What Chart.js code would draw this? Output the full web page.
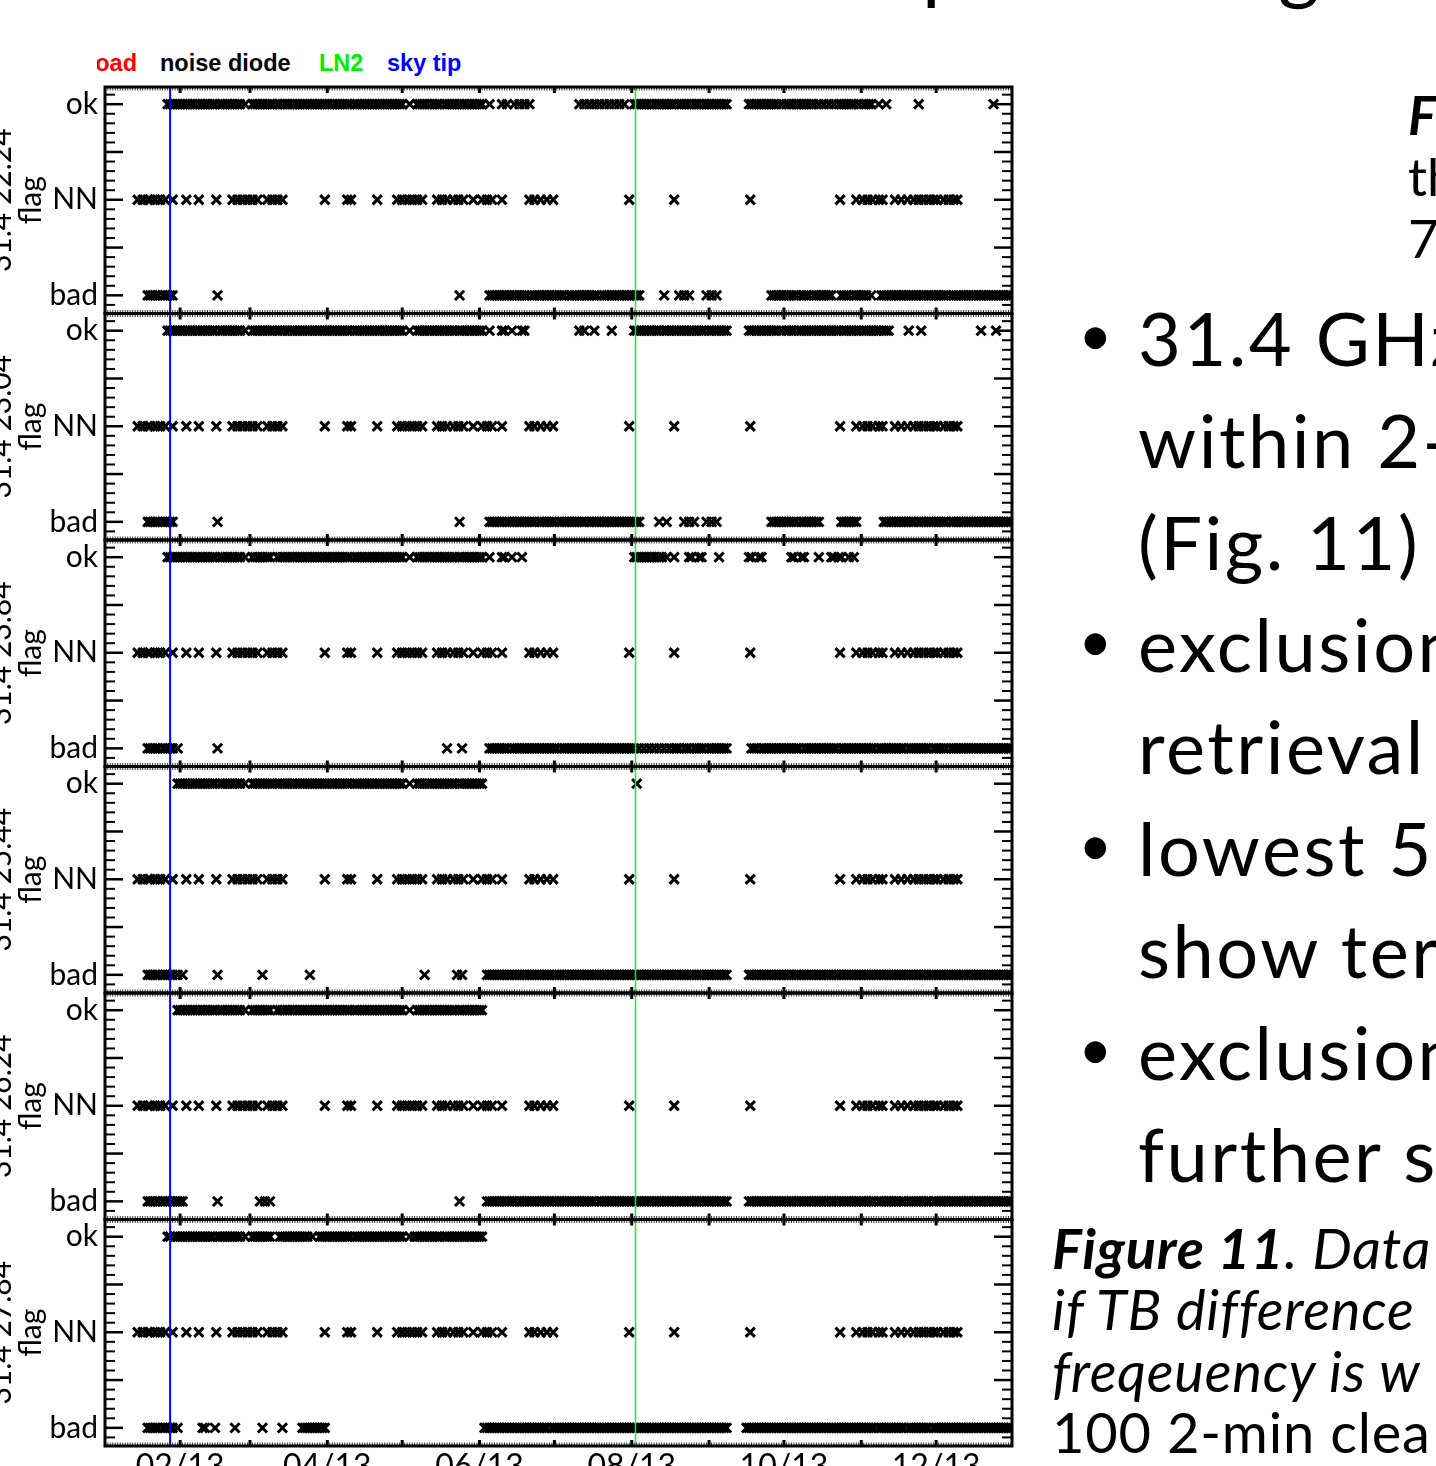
<!DOCTYPE html>
<html><head><meta charset="utf-8">
<script src="https://cdn.jsdelivr.net/npm/chart.js@4.4.1/dist/chart.umd.min.js"></script>
<style>
html,body{margin:0;padding:0;width:1436px;height:1466px;overflow:hidden;background:#fff;position:relative;}
.t{position:absolute;white-space:nowrap;font-family:Lato,sans-serif;color:#000;}
.lg{position:absolute;white-space:nowrap;font-family:"Liberation Sans",Arial,sans-serif;font-weight:bold;font-size:23.5px;line-height:27px;top:50px;}
.bl{position:absolute;font-family:Lato,sans-serif;font-size:58px;line-height:101.9px;left:1078.5px;}
</style></head><body>
<!-- legend -->
<div style="position:absolute;left:97px;top:50px;width:60px;height:30px;overflow:hidden"><span class="lg" style="left:-8.3px;top:0;color:#ff0000">load</span></div>
<div class="lg" style="left:160px;color:#000">noise diode</div>
<div class="lg" style="left:319px;color:#00ee00">LN2</div>
<div class="lg" style="left:387px;color:#0000ff">sky tip</div>
<!-- slide text -->
<div class="t" style="left:922px;top:-85px;font-size:80px;line-height:96px">p</div>
<div class="t" style="left:1278px;top:-85px;font-size:80px;line-height:96px">g</div>
<div class="t" style="left:1408px;top:83.7px;font-size:53px;line-height:61.5px"><b><i>Figure 10</i></b><br>th<br>7</div>
<div class="bl" style="top:283.4px">•</div>
<div class="bl" style="top:589.1px">•</div>
<div class="bl" style="top:792.9px">•</div>
<div class="bl" style="top:996.7px">•</div>
<div class="t" style="left:1138px;top:287.4px;font-size:74px;line-height:101.9px;letter-spacing:2.5px">31.4 GHz<br>within 2-<br>(Fig. 11)<br>exclusion<br>retrieval<br>lowest 5<br>show ter<br>exclusion<br>further s</div>
<div class="t" style="left:1052px;top:1216.7px;font-size:56px;line-height:61.5px;font-style:italic;letter-spacing:0.8px"><b>Figure 11</b>. Data<br>if TB difference<br>freqeuency is w<br><span style="font-style:normal">100 2-min clea</span></div>
<script>
// ---------- data (day of 2013, Jan 1 = 0) ----------
const xTickDays = [31, 90, 151, 212, 273, 334];
const xTickLabels = ['02/13', '04/13', '06/13', '08/13', '10/13', '12/13'];
const monthTickDays = [31, 59, 90, 120, 151, 181, 212, 243, 273, 304, 334];
const yTickValues = [0, 1, 2];
const yTickLabels = ['bad', 'NN', 'ok'];
const yMajorTicks = [0, 0.5, 1, 1.5, 2];
const yMinorTicks = [-0.1, 0.1, 0.2, 0.3, 0.4, 0.6, 0.7, 0.8, 0.9, 1.1, 1.2, 1.3, 1.4, 1.6, 1.7, 1.8, 1.9, 2.1];
const skyTipDays = [27];
const ln2Days = [213.5];
const panelTitles = [['31.4 22.24', 'flag'], ['31.4 23.04', 'flag'], ['31.4 23.84', 'flag'], ['31.4 25.44', 'flag'], ['31.4 26.24', 'flag'], ['31.4 27.84', 'flag']];

const nnDays = [14,16,18,19,21,23,25,28,33.5,38.5,45.5,52,54,56,58,60,62,66,68,70,72,89,98,99.5,110,118,120,122,124,126,128,134,136,138,140.5,142.5,144.5,148.5,152,154,156,160,171,173,175.5,178,180.5,211,229,259.5,295.5,302,304.5,306.5,308.5,311,312.5,317.5,320,322.5,325,327,329,331,333,334.5,337,339,341,342.5];

const p1Ok = [26,27,28,29,30,31,32,33,34,35,36,37,38,39,40,41,42,43,44,45,47,48,49,50,51,52,53,54,55,57,60,61,62,63,64,65,66,67,68,70,71,72,73,74,75,76,77,78,79,80,81,82,83,84,85,86,87,88,89,90,91,92,93,94,95,96,97,98,99,101,102,103,104,105,106,107,108,109,110,111,112,113,114,115,116,117,118,119,120,123,126,127,128,129,130,131,132,133,134,135,137,138,139,140,141,142,143,144,145,146,147,148,149,150,151,152,155,160,162,165,167,169,171,191,193,195,197,199,201,203,205,207,209,213,214,215,216,217,218,219,220,221,222,223,224,225,226,227,228,229,231,232,233,234,235,236,237,238,239,240,241,242,243,244,245,246,247,248,249,250,259,260,261,262,263,264,265,266,267,268,269,270,272,274,275,276,277,278,279,280,281,282,283,284,285,287,289,291,293,295,296,297,298,299,300,301,303,305,306,307,308,311,314,327,357];
const p1Bad = [18,19,20,21,22,24,25,26,27,28,46,143,155,156,157,158,159,160,161,162,163,164,165,166,167,168,169,170,172,173,174,175,176,177,178,179,180,181,182,183,184,185,187,188,189,190,191,192,193,194,195,196,197,198,200,201,202,203,204,205,206,207,208,209,210,211,212,213,214,215,225,231,233,235,242,244,246,268,269,270,271,272,273,274,275,276,277,278,280,281,282,283,285,286,287,288,289,290,291,292,296,297,298,299,301,302,303,304,305,306,308,312,313,314,315,316,317,318,319,320,321,322,323,324,325,326,327,328,329,330,331,332,333,334,335,336,337,338,340,341,342,343,344,345,346,347,348,349,350,351,352,353,354,355,356,357,358,359,360,361,362,363,364];

const p2Ok = [26,27,28,29,30,31,32,33,34,35,36,37,38,39,40,41,42,43,44,45,47,48,49,50,51,52,53,54,55,57,60,61,62,63,64,65,66,67,68,70,71,72,73,74,75,76,77,78,79,80,81,82,83,84,85,86,87,88,89,90,91,92,93,94,95,96,97,98,99,101,102,103,104,105,106,107,108,109,110,111,112,113,114,115,116,117,118,119,120,123,126,127,128,129,130,131,132,133,134,135,136,137,138,139,140,141,143,144,145,146,147,148,149,150,151,152,155,160,161,164,168,169,191,193,197,204,213,214,215,216,217,218,219,220,221,222,223,225,226,227,228,229,230,231,232,233,234,235,236,237,238,239,240,241,243,244,245,246,247,248,249,250,259,260,261,262,263,264,265,266,267,268,269,270,272,274,275,276,277,279,280,281,282,283,284,285,286,287,288,289,290,291,292,293,294,295,297,298,299,300,301,302,303,305,306,307,308,309,310,311,313,314,315,323,328,352,358];
const p2Bad = [18,19,20,21,22,24,25,26,27,28,46,143,155,156,157,158,159,160,162,163,164,165,166,167,168,169,170,171,172,173,175,176,177,178,179,180,181,183,184,185,186,187,188,189,190,191,192,193,195,196,197,198,199,200,201,202,203,204,205,206,207,208,209,210,211,212,213,214,215,223,226,233,235,237,242,244,246,268,269,270,271,272,273,274,275,276,277,278,280,281,282,283,284,285,286,287,296,297,298,299,300,301,302,313,314,315,316,317,318,319,320,321,322,323,324,325,327,328,329,330,331,332,333,334,335,336,337,338,340,341,342,343,344,345,346,347,348,349,350,351,352,353,354,355,356,357,358,359,360,361,362,363,364];

const p3Ok = [26,27,28,29,30,31,32,33,34,35,36,37,38,39,40,41,42,43,44,45,47,48,49,50,51,52,53,54,55,57,60,61,62,63,64,65,66,67,70,71,72,73,74,75,76,77,78,79,80,81,82,83,84,85,86,87,88,89,90,91,92,93,94,95,96,97,98,99,101,102,103,104,105,106,107,108,109,110,111,112,113,114,115,116,117,118,119,120,123,126,127,128,129,130,131,132,133,134,135,136,137,138,139,140,141,143,144,145,146,147,148,149,150,151,152,155,160,161,164,168,213,214,215,216,217,218,219,220,221,222,223,224,226,229,235,236,239,240,247,259,260,263,264,276,277,280,281,287,292,293,295,296,299,301];
const p3Bad = [18,19,20,21,22,24,25,26,27,28,30,46,138,144,155,156,157,158,159,160,161,162,164,165,166,167,168,169,170,171,172,173,174,175,176,177,178,179,180,181,182,184,185,186,187,188,189,190,191,192,193,194,195,196,197,198,199,200,201,202,203,204,205,206,207,208,209,210,211,212,213,215,217,219,221,223,225,227,229,230,231,233,234,235,237,238,239,240,241,243,244,245,246,247,248,249,250,260,261,262,264,265,266,267,268,269,270,271,272,273,274,275,276,277,278,279,281,282,283,284,285,286,287,288,289,290,291,292,293,294,296,297,298,299,300,301,302,303,304,305,306,307,308,309,311,312,313,314,315,316,317,318,319,320,321,323,324,325,326,327,328,329,330,331,333,334,335,336,337,338,340,341,342,343,344,345,346,347,348,349,350,351,352,353,354,355,356,357,358,359,360,361,362,363,364];

const p4Ok = [30,31,32,33,34,35,36,37,38,39,40,41,42,43,44,45,47,48,49,50,51,52,53,54,55,57,60,61,62,63,64,65,66,67,68,70,71,72,73,74,75,76,77,78,79,80,81,82,83,84,85,86,87,88,89,90,91,92,93,94,95,96,97,98,99,101,102,103,104,105,106,107,108,109,110,111,112,113,114,115,116,117,118,119,120,123,126,127,128,129,130,131,132,133,134,135,136,137,138,139,140,141,143,144,145,146,147,148,149,150,151,152,214];
const p4Bad = [18,19,20,21,22,24,25,26,27,28,30,32,46,64,83,129,142,144,154,155,156,157,158,159,160,161,162,163,164,165,166,167,168,169,170,171,172,173,174,175,176,177,178,179,180,181,182,183,184,185,186,187,188,189,190,191,192,193,194,195,196,197,198,199,200,201,202,203,204,205,206,207,208,209,210,211,212,213,214,215,216,217,218,219,220,221,222,223,224,225,226,227,228,229,230,231,232,233,234,235,236,237,238,239,240,241,242,243,244,245,246,247,248,249,250,259,260,261,262,263,264,265,266,267,268,269,270,271,272,273,274,275,276,277,278,279,280,281,282,283,284,285,286,287,288,289,290,291,292,293,294,295,296,297,298,299,300,301,302,303,304,305,306,307,308,309,310,311,312,313,314,315,316,317,318,319,320,321,322,323,324,325,326,327,328,329,330,331,332,333,334,335,336,337,338,339,340,341,342,343,344,345,346,347,348,349,350,351,352,353,354,355,356,357,358,359,360,361,362,363,364];

const p5Ok = [30,31,32,33,34,35,36,37,38,39,40,41,42,43,44,45,47,48,49,50,51,52,53,54,55,57,60,61,62,63,64,65,66,67,70,71,72,73,74,75,76,77,78,79,80,81,82,83,84,85,86,87,88,89,90,91,92,93,94,95,96,97,98,99,101,102,103,104,105,106,107,108,109,110,111,112,113,114,115,116,117,118,119,120,123,126,127,128,129,130,131,132,133,134,135,136,137,138,139,140,141,143,144,145,146,147,148,149,150,151,152];
const p5Bad = [18,19,20,21,22,24,25,26,27,28,29,30,31,32,46,63,65,67,143,154,155,156,157,158,159,160,161,162,163,164,165,166,167,168,169,170,171,172,173,174,175,176,177,178,179,180,181,182,183,184,185,186,187,188,189,190,191,192,193,194,195,196,197,199,200,201,202,203,204,205,206,207,208,209,210,211,212,213,214,215,216,217,218,219,220,221,222,223,224,225,226,227,228,229,230,231,232,233,234,235,236,237,238,239,240,241,242,243,244,245,246,247,248,249,250,259,260,261,262,263,264,265,266,267,268,269,270,271,272,273,274,275,276,277,278,279,280,281,282,283,284,285,286,287,288,289,290,291,292,293,294,295,296,297,298,299,300,301,302,303,304,305,306,307,308,309,311,312,313,314,315,316,317,318,319,320,321,323,324,325,326,327,328,329,330,331,333,334,335,336,337,338,339,340,341,342,343,344,345,346,347,348,349,350,351,352,353,354,355,356,357,358,359,360,361,362,363,364];

const p6Ok = [26,27,29,30,31,32,33,34,35,36,37,38,39,40,41,42,43,44,46,47,48,49,50,51,52,53,54,55,57,60,61,62,63,64,65,66,67,71,72,73,74,75,76,77,78,79,80,81,82,84,87,88,89,90,91,92,93,94,95,96,97,98,99,101,102,103,104,105,106,107,108,109,110,111,112,113,114,115,116,117,118,119,120,123,125,126,127,128,129,130,131,132,133,134,135,137,138,139,140,141,142,143,144,145,146,147,148,149,150,151,152];
const p6Bad = [18,19,20,21,22,24,25,26,27,28,30,40,41,45,53,64,72,80,81,82,83,84,85,86,87,88,89,153,154,155,156,157,158,159,160,161,162,163,164,165,166,167,168,169,170,171,172,173,174,175,176,177,178,180,181,182,183,184,185,186,187,188,189,190,191,192,193,194,195,196,197,198,199,200,201,202,203,204,205,206,207,208,209,210,211,212,213,214,215,216,217,218,219,220,221,222,223,224,225,226,227,228,229,230,231,232,233,234,235,236,237,238,239,240,241,242,243,244,245,246,247,248,249,250,258,259,260,261,262,263,264,265,266,267,268,269,270,271,272,273,274,275,276,277,278,279,280,281,282,283,284,285,286,287,288,289,290,291,292,293,294,295,296,297,298,299,300,301,302,303,304,305,306,307,308,309,311,312,313,314,315,316,317,318,319,320,321,323,324,325,326,327,328,329,330,331,333,334,335,336,337,338,339,340,341,342,343,344,345,346,347,348,349,350,351,352,353,354,355,356,357,358,359,360,361,362,363,364];

const okSeries = [p1Ok, p2Ok, p3Ok, p4Ok, p5Ok, p6Ok];
const badSeries = [p1Bad, p2Bad, p3Bad, p4Bad, p5Bad, p6Bad];

// ---------- layout ----------
const PANEL_TOPS = [87, 313.5, 540, 766.5, 993, 1219.5];
const PANEL_H = 226.5;
const CANVAS_W = 1030;
const PLOT_RIGHT = 1012;
const Y_AXIS_W = 105;

Chart.defaults.font.family = 'Lato';

const framePlugin = {
  id: 'frame',
  afterDatasetsDraw(chart) {
    const {ctx, chartArea: a, scales: {x, y}} = chart;
    ctx.save();
    const seg = (x1, y1, x2, y2, w, c) => {
      ctx.strokeStyle = c || '#000'; ctx.lineWidth = w;
      ctx.beginPath(); ctx.moveTo(x1, y1); ctx.lineTo(x2, y2); ctx.stroke();
    };
    skyTipDays.forEach(d => { const px = x.getPixelForValue(d); seg(px, a.top, px, a.bottom, 2, '#0000ff'); });
    ln2Days.forEach(d => { const px = x.getPixelForValue(d); seg(px, a.top, px, a.bottom, 1.5, '#00ff00'); });
    yMinorTicks.forEach(v => { const py = y.getPixelForValue(v); seg(a.left, py, a.left + 10, py, 2); seg(a.right, py, a.right - 10, py, 2); });
    yMajorTicks.forEach(v => { const py = y.getPixelForValue(v); seg(a.left, py, a.left + 18, py, 2.5); seg(a.right, py, a.right - 18, py, 2.5); });
    for (let d = Math.ceil(x.min); d <= x.max; d++) {
      const px = x.getPixelForValue(d);
      seg(px, a.top, px, a.top + 3.5, 0.8); seg(px, a.bottom, px, a.bottom - 3.5, 0.8);
    }
    monthTickDays.forEach(d => { const px = x.getPixelForValue(d); seg(px, a.top, px, a.top + 6, 3); seg(px, a.bottom, px, a.bottom - 6, 3); });
    ctx.strokeStyle = '#000'; ctx.lineWidth = 3;
    ctx.strokeRect(a.left, a.top, a.right - a.left, a.bottom - a.top);
    ctx.restore();
  }
};

PANEL_TOPS.forEach((pTop, i) => {
  const last = i === PANEL_TOPS.length - 1;
  const canvasTop = Math.round(pTop) - 40;
  const padTop = pTop - canvasTop;
  const xAxisH = last ? 40 : 0;
  const H = Math.ceil(padTop + PANEL_H + xAxisH + 40);
  const padBottom = H - padTop - PANEL_H - xAxisH;
  const cv = document.createElement('canvas');
  cv.width = CANVAS_W; cv.height = H;
  cv.style.cssText = `position:absolute;left:0;top:${canvasTop}px;width:${CANVAS_W}px;height:${H}px;`;
  document.body.appendChild(cv);
  const pt = {pointStyle: 'crossRot', radius: 6.5, hoverRadius: 6.5, borderWidth: 3, borderColor: '#000', backgroundColor: '#000'};
  new Chart(cv, {
    type: 'scatter',
    data: {datasets: [
      Object.assign({data: okSeries[i].map(d => ({x: d, y: 2}))}, pt),
      Object.assign({data: nnDays.map(d => ({x: d, y: 1}))}, pt),
      Object.assign({data: badSeries[i].map(d => ({x: d, y: 0}))}, pt)
    ]},
    options: {
      responsive: false, animation: false, devicePixelRatio: 1,
      layout: {padding: {left: 0, right: CANVAS_W - PLOT_RIGHT, top: padTop, bottom: padBottom}},
      plugins: {legend: {display: false}, tooltip: {enabled: false}},
      events: [],
      scales: {
        x: {
          type: 'linear', min: 0.9, max: 364.4, display: last,
          grid: {display: false, drawTicks: false}, border: {display: false},
          afterBuildTicks: s => { s.ticks = xTickDays.map(v => ({value: v})); },
          ticks: {autoSkip: false, maxRotation: 0, minRotation: 0, padding: 1, color: '#000',
                  font: {family: 'Lato', size: 32},
                  callback: v => xTickLabels[xTickDays.indexOf(v)]},
          afterFit: s => { s.height = xAxisH; }
        },
        y: {
          type: 'linear', min: -0.19, max: 2.18,
          grid: {display: false, drawTicks: false}, border: {display: false},
          afterBuildTicks: s => { s.ticks = yTickValues.map(v => ({value: v})); },
          ticks: {autoSkip: false, padding: 7, color: '#000', font: {family: 'Lato', size: 30},
                  callback: v => yTickLabels[yTickValues.indexOf(v)]},
          title: {display: true, text: panelTitles[i], color: '#000',
                  font: {family: 'Lato', size: 30, lineHeight: 1}, padding: {top: -14, bottom: 0}},
          afterFit: s => { s.width = Y_AXIS_W; }
        }
      }
    },
    plugins: [framePlugin]
  });
});
</script>
</body></html>
